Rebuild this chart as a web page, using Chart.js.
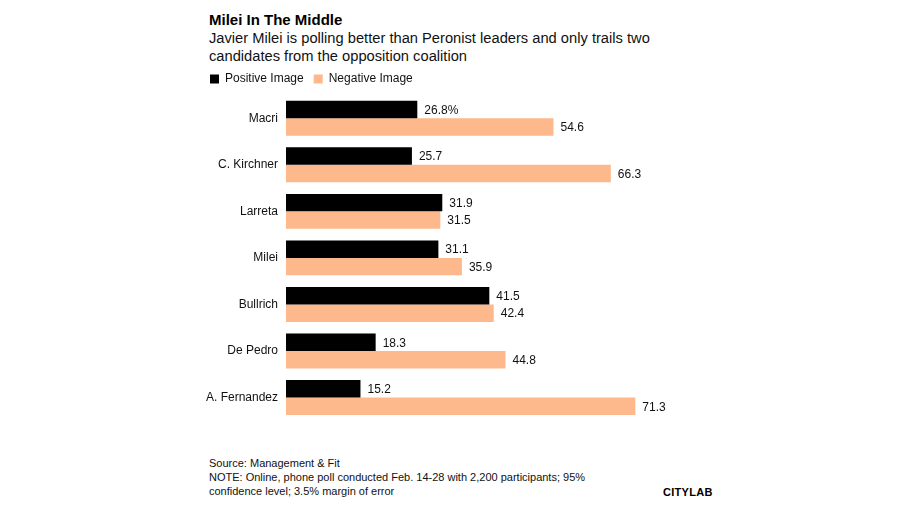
<!DOCTYPE html>
<html>
<head>
<meta charset="utf-8">
<script src="https://cdn.jsdelivr.net/npm/chart.js@4.4.0/dist/chart.umd.min.js"></script>
<style>
  body { margin: 0; background: #fff; font-family: "Liberation Sans", Arial, Helvetica, sans-serif; color: #000; }
  #wrap { position: relative; width: 900px; height: 505px; overflow: hidden; }
  .t { position: absolute; left: 209px; white-space: nowrap; }
  #title { top: 11px; font-size: 15px; font-weight: bold; }
  #sub { top: 29px; font-size: 14.7px; line-height: 18px; color: #111; }
  #foot { top: 456px; font-size: 11px; line-height: 14px; color: #111; }
  #logo { position: absolute; left: 663px; top: 486px; font-size: 11px; font-weight: bold; letter-spacing: 0.3px; }
  #box { position: absolute; left: 200px; top: 63px; width: 500px; height: 365px; }
</style>
</head>
<body>
<div id="wrap">
  <div id="title" class="t">Milei In The Middle</div>
  <div id="sub" class="t">Javier Milei is polling better than Peronist leaders and only trails two<br>candidates from the opposition coalition</div>
  <div id="box"><canvas id="barChart"></canvas></div>
  <div id="foot" class="t">Source: Management &amp; Fit<br>NOTE: Online, phone poll conducted Feb. 14-28 with 2,200 participants; 95%<br>confidence level; 3.5% margin of error</div>
  <div id="logo">CITYLAB</div>
</div>
<script>
// Data
const candidates = ['Macri', 'C. Kirchner', 'Larreta', 'Milei', 'Bullrich', 'De Pedro', 'A. Fernandez'];
const positiveImage = [26.8, 25.7, 31.9, 31.1, 41.5, 18.3, 15.2];
const negativeImage = [54.6, 66.3, 31.5, 35.9, 42.4, 44.8, 71.3];

const FONT = '"Liberation Sans", Arial, Helvetica, sans-serif';

// Value labels at the end of each bar
const valueLabels = {
    id: 'valueLabels',
    afterDatasetsDraw(chart) {
        const ctx = chart.ctx;
        ctx.save();
        ctx.font = '12px ' + FONT;
        ctx.fillStyle = '#111';
        ctx.textBaseline = 'middle';
        ctx.textAlign = 'left';
        chart.data.datasets.forEach((ds, di) => {
            chart.getDatasetMeta(di).data.forEach((bar, i) => {
                let txt = ds.data[i].toFixed(1);
                if (di === 0 && i === 0) txt += '%'; // first label carries the unit
                ctx.fillText(txt, bar.x + 7, bar.y + 1);
            });
        });
        ctx.restore();
    }
};

function createChart() {
    const ctx = document.getElementById('barChart').getContext('2d');
    new Chart(ctx, {
        type: 'bar',
        data: {
            labels: candidates,
            datasets: [
                {
                    label: 'Positive Image',
                    data: positiveImage,
                    backgroundColor: '#000000',
                    barPercentage: 1,
                    categoryPercentage: 0.75
                },
                {
                    label: 'Negative Image',
                    data: negativeImage,
                    backgroundColor: '#fdb98b',
                    barPercentage: 1,
                    categoryPercentage: 0.75
                }
            ]
        },
        options: {
            indexAxis: 'y',
            responsive: true,
            maintainAspectRatio: false,
            animation: false,
            scales: {
                x: {
                    display: false,
                    min: 0,
                    max: 84.5
                },
                y: {
                    grid: { display: false },
                    border: { display: false },
                    ticks: {
                        color: '#111',
                        padding: 0,
                        font: { family: FONT, size: 12 }
                    },
                    afterFit(scale) { scale.width = 86; }
                }
            },
            plugins: {
                legend: {
                    position: 'top',
                    align: 'start',
                    labels: {
                        boxWidth: 9,
                        boxHeight: 9,
                        padding: 10,
                        color: '#111',
                        font: { family: FONT, size: 12 }
                    }
                },
                tooltip: { enabled: false }
            }
        },
        plugins: [valueLabels]
    });
}

createChart();
</script>
</body>
</html>
